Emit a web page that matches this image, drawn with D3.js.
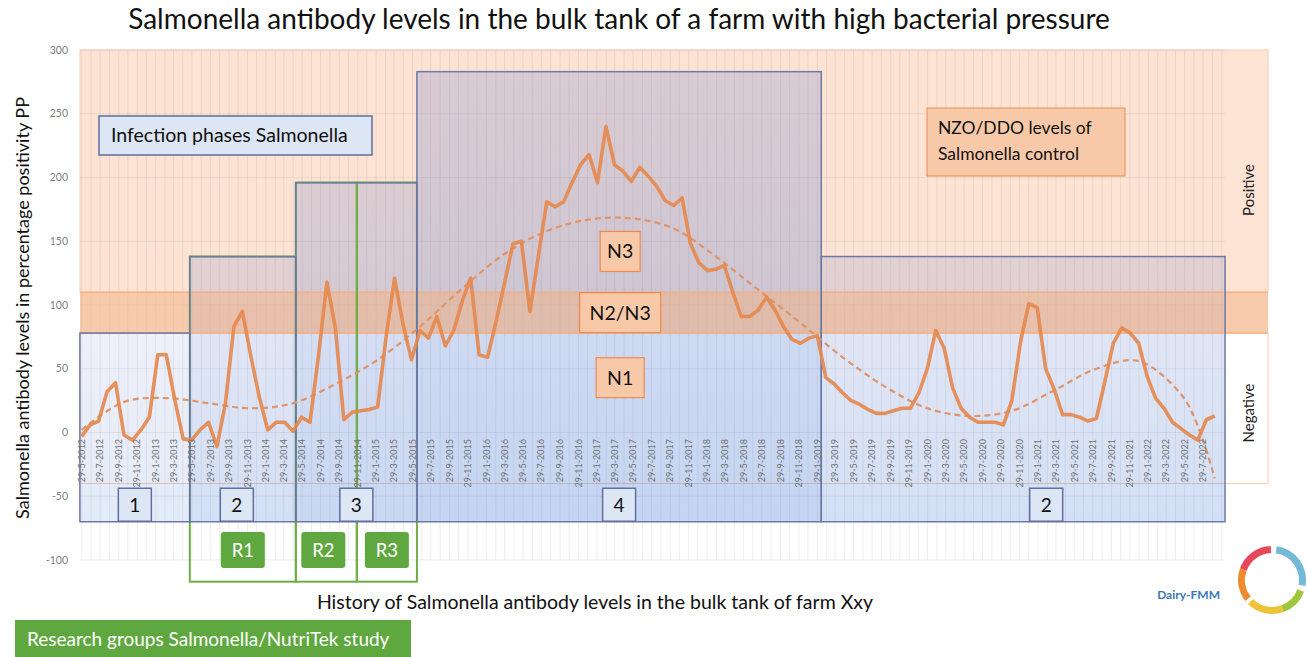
<!DOCTYPE html>
<html lang="en">
<head>
  <meta charset="UTF-8">
  <title>Salmonella antibody levels in the bulk tank</title>
  <style>
    body { margin: 0; background: #fff; }
    svg { display: block; font-family: Lato, "Open Sans", sans-serif; }
  </style>
</head>
<body>

  <section class="plot"></section>

  <script src="https://cdn.jsdelivr.net/npm/d3@7"></script>
  <script>
    // Data: bulk tank samples, one every 4 weeks from 29-5-2012
    const startDate = new Date(2012, 4, 29);
    const sampleDays = 28;
    const ppValues = [
      -3, 6, 9, 32, 39, -2, -6, 2, 12, 61,
      61, 26, -5, -6, 2, 8, -11, 23, 83, 95,
      60, 28, 2, 8, 8, 1, 12, 8, 60, 118,
      82, 10, 16, 17, 18, 20, 75, 121, 85, 57,
      80, 74, 91, 68, 80, 103, 121, 61, 59, 87,
      117, 148, 150, 95, 138, 181, 177, 181, 196, 210,
      218, 196, 240, 210, 205, 197, 208, 201, 193, 182,
      178, 184, 148, 133, 127, 128, 131, 110, 91, 91,
      96, 106, 96, 83, 73, 70, 74, 76, 43, 38,
      31, 25, 22, 18, 15, 15, 17, 19, 19, 31,
      50, 80, 66, 35, 19, 12, 8, 8, 8, 6,
      25, 70, 101, 98, 50, 34, 14, 14, 12, 9,
      11, 40, 70, 82, 78, 70, 44, 27, 19, 8,
      3, -2, -6, 10, 13
    ];

    // polynomial trend line, read at a subset of the samples
    const trendIdx = [0, 5, 10, 15, 20, 25, 30, 35, 40, 45, 50, 55, 60, 65, 70,
      75, 80, 85, 90, 95, 100, 105, 110, 115, 120, 125, 130, 132, 134];
    const trendVals = [2, 24, 27, 23, 19, 23, 38, 57, 83, 113, 140, 158, 167, 168, 160,
      138, 112, 86, 59, 36, 19, 13, 17, 33, 50, 56, 30, 5, -36];

    const yTicks = [300, 250, 200, 150, 100, 50, 0, -50, -100];

    // Infection phases
    const phaseNames = ["1", "2", "3", "4", "2"];
    const phaseStart = ["2012-05-23", "2013-05-22", "2014-05-08", "2015-06-13", "2019-02-11"];
    const phaseEnd = ["2013-05-22", "2014-05-08", "2015-06-13", "2019-02-11", "2022-10-10"];
    const phaseTop = [78, 138, 196, 283, 138];
    const phaseBottom = -70;
    const phaseAlpha = [0.13, 0.2, 0.25, 0.27, 0.2];

    // Research groups
    const groupNames = ["R1", "R2", "R3"];
    const groupStart = ["2013-05-22", "2014-05-08", "2014-11-26"];
    const groupEnd = ["2014-05-08", "2014-11-26", "2015-06-13"];
    const groupTop = [138, 196, 196];
    const groupBottom = -117;

    // NZO/DDO zones
    const zoneLow = [110, 78, -40];
    const zoneHigh = [300, 110, 78];
    const levelNames = ["N3", "N2/N3", "N1"];
    const levelValue = [142, 94, 43];
    const levelDate = "2017-04-16";

    const parse = d3.timeParse("%Y-%m-%d");
    const W = 1307, H = 657;
    const left = 80, plotRight = 1225, panelRight = 1268;

    const svg = d3.select(".plot")
      .append("svg")
      .attr("width", W)
      .attr("height", H);

    const x = d3.scaleTime()
      .domain([parse("2012-05-29"), parse("2022-07-29")])
      .range([81.7, 1203]);
    const y = d3.scaleLinear().domain([-100, 300]).range([560, 50]);

    const samples = ppValues.map((v, i) => ({ date: d3.timeDay.offset(startDate, i * sampleDays), value: v }));
    const trend = trendIdx.map((k, i) => ({ date: samples[k].date, value: trendVals[i] }));

    // one vertical gradient per phase box
    const defs = svg.append("defs");
    phaseAlpha.forEach((a, i) => {
      const g = defs.append("linearGradient")
        .attr("id", "phase" + i)
        .attr("x1", 0).attr("y1", 0).attr("x2", 0).attr("y2", 1);
      g.append("stop").attr("offset", "0%").attr("stop-color", "rgb(100,120,200)").attr("stop-opacity", a * 0.85);
      g.append("stop").attr("offset", "100%").attr("stop-color", "rgb(80,130,215)").attr("stop-opacity", a * 1.25);
    });

    // Zones: positive, borderline band, negative
    svg.append("rect")
      .attr("x", left).attr("y", y(zoneHigh[0]))
      .attr("width", panelRight - left).attr("height", y(zoneLow[0]) - y(zoneHigh[0]))
      .attr("fill", "#fce3d4").attr("stroke", "#f7cbae");
    svg.append("rect")
      .attr("x", left).attr("y", y(zoneHigh[2]))
      .attr("width", panelRight - left).attr("height", y(zoneLow[2]) - y(zoneHigh[2]))
      .attr("fill", "#fff").attr("stroke", "#f7cbae");
    svg.append("rect")
      .attr("x", left).attr("y", y(zoneHigh[1]))
      .attr("width", panelRight - left).attr("height", y(zoneLow[1]) - y(zoneHigh[1]))
      .attr("fill", "#fce3d4");

    // Gridlines
    const grid = svg.append("g").attr("stroke", "rgba(140,140,140,0.15)").attr("stroke-width", 1);
    grid.selectAll("line.h")
      .data(yTicks)
      .enter()
      .append("line")
        .attr("x1", left).attr("x2", plotRight)
        .attr("y1", d => y(d)).attr("y2", d => y(d));
    const months = d3.timeMonth.range(parse("2012-05-01"), parse("2022-11-01"))
      .map(m => d3.timeDay.offset(m, 28))
      .filter(d => x(d) > left && x(d) < plotRight);
    grid.selectAll("line.v")
      .data(months)
      .enter()
      .append("line")
        .attr("x1", d => x(d)).attr("x2", d => x(d))
        .attr("y1", y(300)).attr("y2", y(-100));

    // Phase boxes (fill)
    svg.append("g")
      .selectAll("rect")
      .data(phaseNames)
      .enter()
      .append("rect")
        .attr("x", (d, i) => x(parse(phaseStart[i])))
        .attr("y", (d, i) => y(phaseTop[i]))
        .attr("width", (d, i) => x(parse(phaseEnd[i])) - x(parse(phaseStart[i])))
        .attr("height", (d, i) => y(phaseBottom) - y(phaseTop[i]))
        .attr("fill", (d, i) => `url(#phase${i})`);

    // Borderline band on top
    svg.append("rect")
      .attr("x", left).attr("y", y(zoneHigh[1]))
      .attr("width", panelRight - left).attr("height", y(zoneLow[1]) - y(zoneHigh[1]))
      .attr("fill", "rgba(244,177,131,0.5)");
    svg.selectAll("line.band")
      .data([zoneHigh[1], zoneLow[1]])
      .enter()
      .append("line")
        .attr("x1", left).attr("x2", panelRight)
        .attr("y1", d => y(d)).attr("y2", d => y(d))
        .attr("stroke", "#f5b083").attr("stroke-width", 1.5);

    // Research group frames
    svg.append("g")
      .selectAll("rect")
      .data(groupNames)
      .enter()
      .append("rect")
        .attr("x", (d, i) => x(parse(groupStart[i])))
        .attr("y", (d, i) => y(groupTop[i]))
        .attr("width", (d, i) => x(parse(groupEnd[i])) - x(parse(groupStart[i])))
        .attr("height", (d, i) => y(groupBottom) - y(groupTop[i]))
        .attr("fill", "none")
        .attr("stroke", "#70ad47")
        .attr("stroke-width", 2);

    // Phase box outlines
    svg.append("g")
      .selectAll("rect")
      .data(phaseNames)
      .enter()
      .append("rect")
        .attr("x", (d, i) => x(parse(phaseStart[i])))
        .attr("y", (d, i) => y(phaseTop[i]))
        .attr("width", (d, i) => x(parse(phaseEnd[i])) - x(parse(phaseStart[i])))
        .attr("height", (d, i) => y(phaseBottom) - y(phaseTop[i]))
        .attr("fill", "none")
        .attr("stroke", "#6b79a8")
        .attr("stroke-width", 1.5);

    // Lines
    const line = d3.line().x(d => x(d.date)).y(d => y(d.value));
    svg.append("path")
      .datum(trend)
      .attr("d", line.curve(d3.curveCatmullRom))
      .attr("fill", "none")
      .attr("stroke", "#e0946a")
      .attr("stroke-width", 2.2)
      .attr("stroke-dasharray", "6,4");
    svg.append("path")
      .datum(samples)
      .attr("d", d3.line().x(d => x(d.date)).y(d => y(d.value)))
      .attr("fill", "none")
      .attr("stroke", "#e5894f")
      .attr("stroke-width", 3.6)
      .attr("stroke-linejoin", "round")
      .attr("stroke-opacity", 0.92);

    // Axes
    svg.append("g")
      .selectAll("text")
      .data(yTicks)
      .enter()
      .append("text")
        .attr("x", 68).attr("y", d => y(d)).attr("dy", "0.35em")
        .attr("text-anchor", "end")
        .attr("font-size", "10.5px")
        .attr("fill", "#7f7f7f")
        .text(d => d);

    const xTicks = d3.timeMonth.every(2).range(parse("2012-05-01"), parse("2022-08-01"))
      .map(m => d3.timeDay.offset(m, 28));
    const fmt = d3.timeFormat("%-d-%-m-%Y");
    svg.append("g")
      .selectAll("text")
      .data(xTicks)
      .enter()
      .append("text")
        .attr("transform", d => `translate(${x(d)},439) rotate(-90)`)
        .attr("dy", "0.35em")
        .attr("text-anchor", "end")
        .attr("font-size", "9px")
        .attr("fill", "#707070")
        .text(d => fmt(d));

    // Titles
    svg.append("text")
      .attr("x", 619).attr("y", 29)
      .attr("text-anchor", "middle")
      .attr("font-size", "28px")
      .attr("fill", "#111")
      .text("Salmonella antibody levels in the bulk tank of a farm with high bacterial pressure");
    svg.append("text")
      .attr("transform", "translate(29,308) rotate(-90)")
      .attr("text-anchor", "middle")
      .attr("font-size", "18px")
      .attr("fill", "#111")
      .text("Salmonella antibody levels in percentage positivity PP");
    svg.append("text")
      .attr("x", 595).attr("y", 609)
      .attr("text-anchor", "middle")
      .attr("font-size", "19.5px")
      .attr("fill", "#111")
      .text("History of Salmonella antibody levels in the bulk tank of farm Xxy");

    // Positive / Negative side labels
    svg.selectAll("text.side")
      .data([["Positive", 190], ["Negative", 413]])
      .enter()
      .append("text")
        .attr("transform", d => `translate(1254,${d[1]}) rotate(-90)`)
        .attr("text-anchor", "middle")
        .attr("font-size", "15px")
        .attr("fill", "#222")
        .text(d => d[0]);

    // Legend-like boxes
    const infoBox = svg.append("g");
    infoBox.append("rect")
      .attr("x", 99).attr("y", 116).attr("width", 273).attr("height", 39)
      .attr("fill", "#dde6f4").attr("stroke", "#5f6f9f").attr("stroke-width", 1.5);
    infoBox.append("text")
      .attr("x", 111).attr("y", 142)
      .attr("font-size", "19.5px").attr("fill", "#111")
      .text("Infection phases Salmonella");

    const nzoBox = svg.append("g");
    nzoBox.append("rect")
      .attr("x", 927).attr("y", 108).attr("width", 198).attr("height", 68)
      .attr("fill", "#f8c9a8").attr("stroke", "#ee8a4c").attr("stroke-width", 1);
    nzoBox.selectAll("text")
      .data(["NZO/DDO levels of", "Salmonella control"])
      .enter()
      .append("text")
        .attr("x", 938).attr("y", (d, i) => 134 + i * 26)
        .attr("font-size", "17.5px").attr("fill", "#111")
        .text(d => d);

    // Level labels N1, N2/N3, N3
    const levelW = [40, 81, 48];
    const lx = x(parse(levelDate));
    const lv = svg.append("g")
      .selectAll("g")
      .data(levelNames)
      .enter()
      .append("g")
        .attr("transform", (d, i) => `translate(${lx},${y(levelValue[i])})`);
    lv.append("rect")
      .attr("x", (d, i) => -levelW[i] / 2).attr("y", -20)
      .attr("width", (d, i) => levelW[i]).attr("height", 40)
      .attr("fill", "#f8c9a8").attr("stroke", "#ee8a4c").attr("stroke-width", 1.2);
    lv.append("text")
      .attr("text-anchor", "middle").attr("dy", "0.36em")
      .attr("font-size", "19.5px").attr("fill", "#111")
      .text(d => d);

    // Phase number boxes
    const phaseShift = [0, -6, 0, 0, 23];
    const pb = svg.append("g")
      .selectAll("g")
      .data(phaseNames)
      .enter()
      .append("g")
        .attr("transform", (d, i) => {
          const cx = (x(parse(phaseStart[i])) + x(parse(phaseEnd[i]))) / 2 + phaseShift[i];
          return `translate(${cx},${y(phaseBottom) - 17})`;
        });
    pb.append("rect")
      .attr("x", -16.5).attr("y", -16.5).attr("width", 33).attr("height", 33)
      .attr("fill", "#dde6f4").attr("stroke", "#5f6f9f").attr("stroke-width", 1.5);
    pb.append("text")
      .attr("text-anchor", "middle").attr("dy", "0.36em")
      .attr("font-size", "19px").attr("fill", "#111")
      .text(d => d);

    // Research group tags
    const rShift = [0, -3, 0];
    const rb = svg.append("g")
      .selectAll("g")
      .data(groupNames)
      .enter()
      .append("g")
        .attr("transform", (d, i) => {
          const cx = (x(parse(groupStart[i])) + x(parse(groupEnd[i]))) / 2 + rShift[i];
          return `translate(${cx},550)`;
        });
    rb.append("rect")
      .attr("x", -22).attr("y", -18).attr("width", 44).attr("height", 36).attr("rx", 3)
      .attr("fill", "#5fa83f");
    rb.append("text")
      .attr("text-anchor", "middle").attr("dy", "0.36em")
      .attr("font-size", "18.5px").attr("fill", "#fff")
      .text(d => d);

    const rg = svg.append("g");
    rg.append("rect")
      .attr("x", 15).attr("y", 620).attr("width", 396).attr("height", 40)
      .attr("fill", "#5fa83f");
    rg.append("text")
      .attr("x", 27).attr("y", 646)
      .attr("font-size", "19px").attr("fill", "#fff")
      .text("Research groups Salmonella/NutriTek study");

    // Dairy-FMM logo
    svg.append("text")
      .attr("x", 1220).attr("y", 599)
      .attr("text-anchor", "end")
      .attr("font-size", "12px").attr("font-weight", "bold")
      .attr("fill", "#3a78b5")
      .text("Dairy-FMM");
    const arc = d3.arc().innerRadius(27).outerRadius(34);
    const logoParts = [[8, 100, "#74b9d8"], [110, 160, "#9fc63d"], [160, 225, "#eec437"],
      [232, 290, "#f08a31"], [290, 358, "#e8485a"]];
    svg.append("g")
      .attr("transform", "translate(1272,580)")
      .selectAll("path")
      .data(logoParts)
      .enter()
      .append("path")
        .attr("d", d => arc({ startAngle: d[0] * Math.PI / 180, endAngle: d[1] * Math.PI / 180 }))
        .attr("fill", d => d[2]);
  </script>
</body>
</html>
